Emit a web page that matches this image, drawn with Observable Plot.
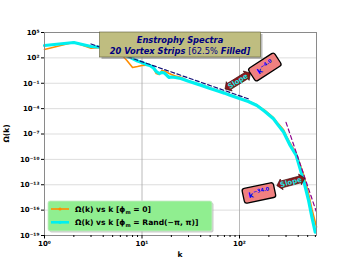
<!DOCTYPE html>
<html><head><meta charset="utf-8">
<script src="https://cdn.jsdelivr.net/npm/d3@7"></script>
<script src="https://cdn.jsdelivr.net/npm/@observablehq/plot@0.6"></script>
<style>body{margin:0;background:#fff;} svg{font-family:"DejaVu Sans",sans-serif;}</style>
</head><body><div id="chart"></div>
<script>
// ---- data ----
const kPhi0 = [1,2,3,4,5,6,7,8,9,10,11,12,13,14,15,16,17,18,19,20,22,25,30,40,50,60,70,80,100,123,150,182,220,248,283,305,331,382,454,511,553,616];
const omegaPhi0 = [9.8e2,7.1e3,1.4e3,1.8e3,1.0e3,3.3e2,49,7.2,9.5,12.6,14,16,8,1.4,1.1,3.2,2.8,2.0,1.4,1.1,0.7,0.5,0.19,0.068,0.027,0.0135,7.6e-3,4.3e-3,1.8e-3,8e-4,2.8e-4,6.3e-5,1e-5,1.8e-6,3.2e-7,5e-8,8e-9,5e-10,1.6e-12,8e-15,1.3e-16,1e-18];
const kRand = [1,2,3,4,5,6,7,8,9,10,11,12,13,14,15,16,17,18,19,20,22,25,30,40,50,60,70,80,100,123,151,182,223,248,283,305,331,382,454,511,553,598];
const omegaRand = [2.9e3,6.6e3,2.2e3,1.7e3,1.0e3,4.4e2,1.7e2,85,43,28,17,12.6,7.2,2.5,1.4,1.9,1.6,0.83,0.48,0.55,0.48,0.36,0.17,0.06,0.024,0.012,6.8e-3,3.8e-3,1.6e-3,6.9e-4,2.3e-4,4.6e-5,6.3e-6,1.2e-6,1.7e-7,3e-8,4.4e-9,2.9e-10,3.2e-13,1.4e-15,1.5e-17,2.5e-19];
const slope4K = [3, 123];
const slope4Omega = [4.4e3, 1.45e-3];
const slope34K = [300, 612];
const slope34Omega = [2.4e-6, 7.1e-17];
const yTicks = [1e5,1e2,1e-1,1e-4,1e-7,1e-10,1e-13,1e-16,1e-19];
const xTicks = [1,10,100];
const xMinor = [2,3,4,5,6,7,8,9,20,30,40,50,60,70,80,90,200,300,400,500,600];
const titleLine1 = "Enstrophy Spectra";
const titleLine2 = ["20 Vortex Strips ", "[62.5%", " Filled]"];
const legendLabels = [["Ω(k) vs k [ϕ","m"," = 0]"],["Ω(k) vs k [ϕ","m"," = Rand(−π, π)]"]];
const legendColors = ["#ff8c00", "#00f0f0"];
const annot1 = {boxK: 184, boxOmega: 7.3, arrowK: 97, arrowOmega: 0.16, text: "k", sup: "−4.0"};
const annot2 = {boxK: 160, boxOmega: 9.3e-15, arrowK: 340, arrowOmega: 1.9e-13, text: "k", sup: "−34.0"};

const sup = {"0":"⁰","1":"¹","2":"²","3":"³","4":"⁴","5":"⁵","6":"⁶","7":"⁷","8":"⁸","9":"⁹","-":"⁻"};
const fmtPow = v => "10" + String(Math.round(Math.log10(v))).split("").map(c => sup[c]).join("");

const phi0 = kPhi0.map((k,i)=>({k, w: omegaPhi0[i]}));
const rand = kRand.map((k,i)=>({k, w: omegaRand[i]}));
const s4 = slope4K.map((k,i)=>({k, w: slope4Omega[i]}));
const s34 = slope34K.map((k,i)=>({k, w: slope34Omega[i]}));

const W=352, H=264, mL=44, mR=36, mT=32, mB=29;
const chart = Plot.plot({
  width: W, height: H, marginLeft: mL, marginRight: mR, marginTop: mT, marginBottom: mB,
  x: {type: "log", domain: [1, 616]},
  y: {type: "log", domain: [1e-19, 1e5]},
  style: {fontFamily: "DejaVu Sans", fontSize: "7px", fontWeight: "bold", color: "#000", background: "#fff", overflow: "visible"},
  marks: [
    Plot.gridY(yTicks, {stroke: "#d4d4d4", strokeOpacity: 1, strokeWidth: 0.8}),
    Plot.gridX(xTicks, {stroke: "#a8a8a8", strokeOpacity: 1, strokeWidth: 0.8}),
    Plot.line(phi0, {x: "k", y: "w", stroke: legendColors[0], strokeWidth: 1.6}),
    Plot.line(rand, {x: "k", y: "w", stroke: legendColors[1], strokeWidth: 3.2}),
    Plot.line(s4, {x: "k", y: "w", stroke: "#10107a", strokeWidth: 1.2, strokeDasharray: "4,2.5"}),
    Plot.line(s34, {x: "k", y: "w", stroke: "#8b008b", strokeWidth: 1.2, strokeDasharray: "4,3"}),
    Plot.frame({stroke: "#8a8a8a", strokeWidth: 1}),
    Plot.axisY(yTicks, {tickFormat: fmtPow, tickSize: 3, tickPadding: 2, label: null, fontSize: 7, fontWeight: "bold"}),
    Plot.axisX(xTicks, {tickFormat: fmtPow, tickSize: 3.5, tickPadding: 2, label: null, fontSize: 7, fontWeight: "bold"}),
    Plot.axisX(xMinor, {tickFormat: () => "", tickSize: 2, label: null})
  ]
});
document.getElementById("chart").appendChild(chart);

const svg = d3.select(chart);
const sx = chart.scale("x"), sy = chart.scale("y");
const plotL = mL, plotR = W - mR, plotT = mT, plotB = H - mB;
const cx = (plotL + plotR) / 2;

// axis labels
svg.append("text").attr("x", cx).attr("y", plotB + 22).attr("text-anchor","middle")
  .attr("font-size", 7.5).attr("font-weight","bold").text("k");
svg.append("text").attr("transform", `translate(9,${(plotT+plotB)/2}) rotate(-90)`).attr("text-anchor","middle")
  .attr("font-size", 7.5).attr("font-weight","bold").text("Ω(k)");

// title box
const tb = {w: 161, h: 25};
const tg = svg.append("g");
tg.append("rect").attr("x", cx - tb.w/2 + 2).attr("y", plotT + 2).attr("width", tb.w).attr("height", tb.h).attr("fill", "#7a7a7a").attr("opacity", 0.5);
tg.append("rect").attr("x", cx - tb.w/2).attr("y", plotT).attr("width", tb.w).attr("height", tb.h).attr("fill", "#bfbd80").attr("stroke", "#5a5a3a").attr("stroke-width", 0.6);
tg.append("text").attr("x", cx).attr("y", plotT + 11).attr("text-anchor","middle").attr("fill","#000080")
  .attr("font-size", 8.3).attr("font-weight","bold").attr("font-style","italic").text(titleLine1);
const t2 = tg.append("text").attr("x", cx).attr("y", plotT + 21.5).attr("text-anchor","middle").attr("fill","#000080")
  .attr("font-size", 8.3);
t2.append("tspan").attr("font-weight","bold").attr("font-style","italic").text(titleLine2[0]);
t2.append("tspan").attr("font-weight","normal").text(titleLine2[1]);
t2.append("tspan").attr("font-weight","bold").attr("font-style","italic").text(titleLine2[2]);

// legend
const lg = {x: plotL + 4, y: plotB - 34, w: 164, h: 30};
const L = svg.append("g");
L.append("rect").attr("x", lg.x + 1.5).attr("y", lg.y + 1.5).attr("width", lg.w).attr("height", lg.h).attr("rx", 2).attr("fill", "#9a9a9a").attr("opacity", 0.5);
L.append("rect").attr("x", lg.x).attr("y", lg.y).attr("width", lg.w).attr("height", lg.h).attr("rx", 2).attr("fill", "#90ee90").attr("stroke", "#c8e8c8").attr("stroke-width", 0.8);
legendLabels.forEach((lab, i) => {
  const yy = lg.y + 8 + i * 13.3;
  L.append("line").attr("x1", lg.x + 3).attr("x2", lg.x + 21).attr("y1", yy).attr("y2", yy).attr("stroke", legendColors[i]).attr("stroke-width", i ? 2.6 : 1.6);
  L.append("circle").attr("cx", lg.x + 12).attr("cy", yy).attr("r", 1.6).attr("fill", legendColors[i]);
  const t = L.append("text").attr("x", lg.x + 27).attr("y", yy + 2.7).attr("text-anchor", "start").attr("font-size", 7.6).attr("font-weight","bold");
  t.append("tspan").text(lab[0]);
  t.append("tspan").attr("font-size", 5).attr("dy", 1.8).text(lab[1]);
  t.append("tspan").attr("dy", -1.8).text(lab[2]);
});

// annotations
function darrow(g, cxp, cyp, len, rot) {
  const h = 7, Hh = 11, a = 5, l = len/2;
  const pts = [[-l,0],[-l+a,-Hh/2],[-l+a,-h/2],[l-a,-h/2],[l-a,-Hh/2],[l,0],[l-a,Hh/2],[l-a,h/2],[-l+a,h/2],[-l+a,Hh/2]];
  const gg = g.append("g").attr("transform", `translate(${cxp},${cyp}) rotate(${rot})`);
  gg.append("path").attr("d", "M" + pts.map(p => p.join(",")).join("L") + "Z").attr("fill", "#8b1a1a").attr("stroke", "#3a0a0a").attr("stroke-width", 0.6);
  gg.append("text").attr("text-anchor","middle").attr("y", 2.5).attr("fill", "#20e8e8").attr("font-size", 7).attr("font-weight","bold").text("Slope");
}
function kbox(g, cxp, cyp, w, h, rot, a) {
  const gg = g.append("g").attr("transform", `translate(${cxp},${cyp}) rotate(${rot})`);
  gg.append("rect").attr("x", -w/2).attr("y", -h/2).attr("width", w).attr("height", h).attr("rx", 2.5).attr("fill", "#f08080").attr("stroke", "#000").attr("stroke-width", 1.3);
  const t = gg.append("text").attr("text-anchor","middle").attr("y", 3).attr("fill", "#0000ff").attr("font-size", 7.5).attr("font-weight","bold");
  t.append("tspan").text(a.text);
  t.append("tspan").attr("font-size", 5).attr("dy", -3.5).text(a.sup);
}
const A = svg.append("g");
darrow(A, sx.apply(annot1.arrowK), sy.apply(annot1.arrowOmega), 30, -32);
kbox(A, sx.apply(annot1.boxK), sy.apply(annot1.boxOmega), 31, 15, -33, annot1);
darrow(A, sx.apply(annot2.arrowK), sy.apply(annot2.arrowOmega), 29, -15);
kbox(A, sx.apply(annot2.boxK), sy.apply(annot2.boxOmega), 32, 15, -12, annot2);
</script></body></html>
